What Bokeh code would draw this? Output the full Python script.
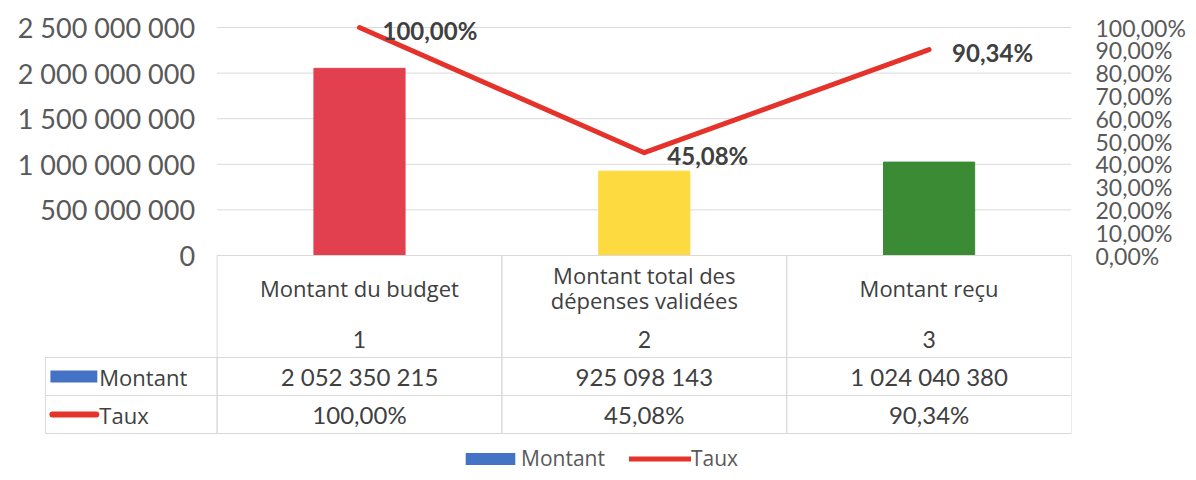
from bokeh.plotting import figure
from bokeh.models import (Range1d, LinearAxis, FixedTicker, Legend, LegendItem,
                          ColumnDataSource)
from bokeh.embed import file_html
from bokeh.resources import INLINE
from bokeh.core.properties import value

# ---------------- data ----------------
categories = ["Montant du budget", "Montant total des\ndépenses validées", "Montant reçu"]
index_labels = ["1", "2", "3"]
montant = [2052350215, 925098143, 1024040380]
taux = [100.00, 45.08, 90.34]
bar_colors = ["#E2404F", "#FDDA40", "#3B8B34"]
series_names = ["Montant", "Taux"]
series_colors = ["#4472C4", "#E5322A"]
left_ticks = [0, 500000000, 1000000000, 1500000000, 2000000000, 2500000000]
right_ticks = [0, 10, 20, 30, 40, 50, 60, 70, 80, 90, 100]


def fr_int(v):
    return f"{int(round(v)):,}".replace(",", " ")


def fr_pct(v):
    return f"{v:.2f}%".replace(".", ",")


FONT = "Open Sans"
NUMFONT = "Lato"
TXT = "#404040"
AXT = "#595959"
GRID = "#D9D9D9"

# ---------------- geometry (canvas pixels) ----------------
W, H = 1188, 472
TABLE_L = 45                 # left edge of the data table
PLOT_L, PLOT_R = 217, 1073   # category area
Y0, YTOP_TICK, FRAME_T = 255, 27, 12
ncat = len(categories)
COL_W = (PLOT_R - PLOT_L) / ncat
PXU = (Y0 - YTOP_TICK) / left_ticks[-1]     # px per amount unit
PXP = (Y0 - YTOP_TICK) / right_ticks[-1]    # px per percent unit


def ydat(py):
    return (Y0 - py) / PXU


def xdat(px):
    return (px - PLOT_L) / COL_W


p = figure(width=W, height=H, output_backend="svg", toolbar_location=None,
           x_range=Range1d(xdat(0), ncat),
           y_range=Range1d(ydat(H), ydat(FRAME_T)),
           min_border_left=0, min_border_right=W - PLOT_R,
           min_border_top=FRAME_T, min_border_bottom=0)
p.extra_y_ranges = {"pct": Range1d((Y0 - H) / PXP, (Y0 - FRAME_T) / PXP)}
p.outline_line_color = None
p.background_fill_color = "white"
p.xaxis.visible = False
p.xgrid.visible = False
p.ygrid.visible = False

ya = p.yaxis[0]
ya.fixed_location = 0
ya.ticker = FixedTicker(ticks=left_ticks)
ya.major_label_overrides = {t: fr_int(t) for t in left_ticks}
ya.axis_line_color = None
ya.major_tick_line_color = None
ya.minor_tick_line_color = None
ya.major_tick_out = 0
ya.major_tick_in = 0
ya.major_label_standoff = 22
ya.major_label_text_font = NUMFONT
ya.major_label_text_font_size = "27px"
ya.major_label_text_color = AXT

ra = LinearAxis(y_range_name="pct", ticker=FixedTicker(ticks=right_ticks))
ra.major_label_overrides = {t: fr_pct(t) for t in right_ticks}
ra.axis_line_color = None
ra.major_tick_line_color = None
ra.minor_tick_line_color = None
ra.major_tick_out = 0
ra.major_tick_in = 0
ra.major_label_standoff = 24
ra.major_label_text_font = NUMFONT
ra.major_label_text_font_size = "23px"
ra.major_label_text_color = AXT
p.add_layout(ra, "right")

# horizontal gridlines over the category area
grid_y = left_ticks[1:]
p.segment(x0=[0] * len(grid_y), x1=[ncat] * len(grid_y), y0=grid_y, y1=grid_y,
          line_color=GRID, line_width=1)

xs = [i + 0.5 for i in range(ncat)]
src = ColumnDataSource(dict(x=xs, top=montant, color=bar_colors))
p.vbar(x="x", top="top", width=0.32, color="color", source=src)

line_r = p.line(xs, taux, y_range_name="pct", line_color=series_colors[1], line_width=5,
                line_cap="round", line_join="round")
p.text(xs, taux, text=[fr_pct(t) for t in taux], y_range_name="pct",
       x_offset=23, y_offset=3, text_align="left", text_baseline="middle",
       text_font=value(NUMFONT), text_font_style="bold", text_font_size="24px",
       text_color=TXT)

# ---------------- data table under the chart ----------------
row_edges = [Y0, 357, 395, 433]
cl, cr, ct, cb = [], [], [], []
for r in range(3):
    top, bot = ydat(row_edges[r]), ydat(row_edges[r + 1])
    if r > 0:
        cl.append(xdat(TABLE_L)); cr.append(0); ct.append(top); cb.append(bot)
    for i in range(ncat):
        cl.append(i); cr.append(i + 1); ct.append(top); cb.append(bot)
p.quad(left=cl, right=cr, top=ct, bottom=cb, fill_alpha=0, line_color=GRID, line_width=1)

common = dict(text_align="center", text_baseline="middle", text_color=TXT)
p.text(xs, [ydat(287)] * ncat, text=categories, text_font=value(FONT),
       text_font_size="22px", text_line_height=0.86, **common)
p.text(xs, [ydat(339)] * ncat, text=index_labels, text_font=value(NUMFONT),
       text_font_size="23px", **common)
p.text(xs, [ydat(376)] * ncat, text=[fr_int(v) for v in montant], text_font=value(NUMFONT),
       text_font_size="24px", **common)
p.text(xs, [ydat(414)] * ncat, text=[fr_pct(v) for v in taux], text_font=value(NUMFONT),
       text_font_size="24px", **common)

# row headers with their keys
key_r = p.quad(left=[xdat(50)], right=[xdat(97)], top=[ydat(370)], bottom=[ydat(382)],
               fill_color=series_colors[0], line_color=None)
p.segment(x0=[xdat(52)], x1=[xdat(96)], y0=[ydat(414)], y1=[ydat(414)],
          line_color=series_colors[1], line_width=6, line_cap="round")
p.text([xdat(99)] * 2, [ydat(376), ydat(414)], text=series_names, text_align="left",
       text_baseline="middle", text_font=value(FONT), text_font_size="22px", text_color=TXT)

# ---------------- legend ----------------
legend = Legend(items=[LegendItem(label=series_names[0], renderers=[key_r]),
                       LegendItem(label=series_names[1], renderers=[line_r])],
                location=(459, H - 472), orientation="horizontal",
                glyph_width=62, glyph_height=15, label_height=15,
                label_standoff=0, spacing=24, padding=0, margin=0,
                border_line_color=None, background_fill_alpha=0,
                label_text_font=FONT, label_text_font_size="21px", label_text_color=AXT)
p.add_layout(legend)

open("out.html", "w").write(file_html(p, INLINE))
